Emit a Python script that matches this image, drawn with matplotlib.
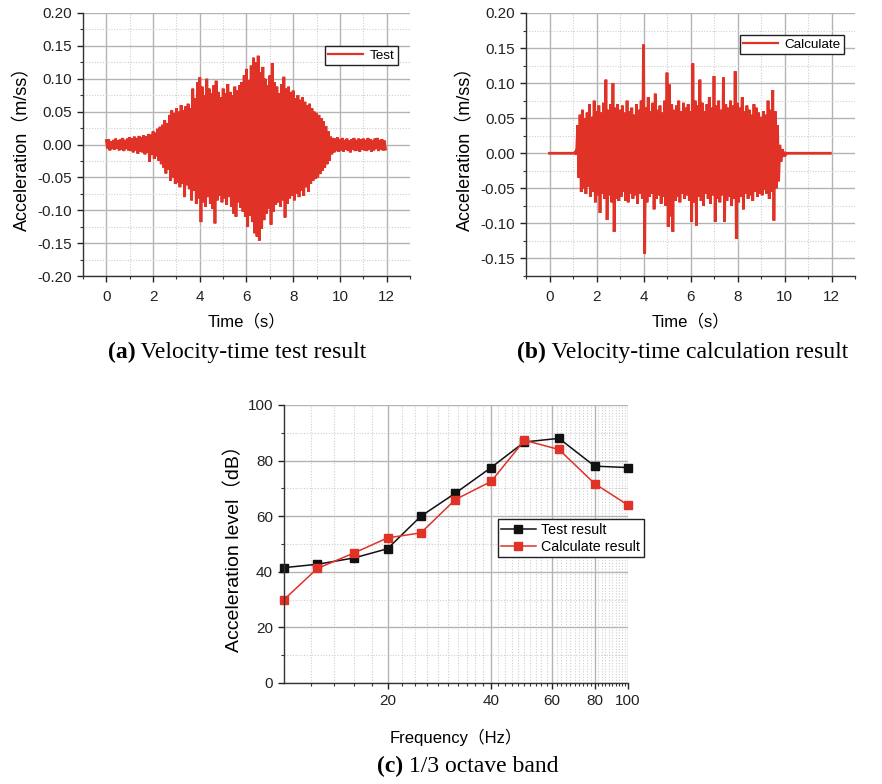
import numpy as np
import matplotlib
matplotlib.use("Agg")
import matplotlib.pyplot as plt
from matplotlib.ticker import MultipleLocator, FixedLocator, NullFormatter

# ----------------------
# Datos
# ----------------------
# picos por intervalo de 0.1 s (superior en t, inferior en t+0.05)
test_up = [0.006, 0.008, 0.005, 0.007, 0.009, 0.006, 0.008, 0.010, 0.007, 0.009,
           0.011, 0.009, 0.012, 0.010, 0.013, 0.011, 0.014, 0.012, 0.016, 0.015,
           0.020, 0.018, 0.024, 0.027, 0.030, 0.037, 0.032, 0.045, 0.052, 0.048,
           0.055, 0.050, 0.060, 0.052, 0.058, 0.062, 0.055, 0.085, 0.070, 0.095,
           0.102, 0.088, 0.075, 0.100, 0.085, 0.078, 0.090, 0.097, 0.080, 0.072,
           0.085, 0.078, 0.092, 0.080, 0.075, 0.088, 0.082, 0.090, 0.095, 0.105,
           0.115, 0.098, 0.120, 0.132, 0.125, 0.135, 0.110, 0.118, 0.100, 0.090,
           0.105, 0.124, 0.095, 0.088, 0.078, 0.092, 0.103, 0.085, 0.088, 0.080,
           0.082, 0.070, 0.075, 0.068, 0.072, 0.065, 0.060, 0.062, 0.055, 0.050,
           0.048, 0.045, 0.040, 0.035, 0.028, 0.020, 0.012, 0.010, 0.009, 0.011,
           0.008, 0.010, 0.007, 0.009, 0.006, 0.008, 0.010, 0.007, 0.009, 0.008,
           0.009, 0.007, 0.010, 0.008, 0.006, 0.009, 0.010, 0.007, 0.008, 0.006]
test_lo = [-0.006, -0.009, -0.007, -0.008, -0.006, -0.009, -0.008, -0.010, -0.007, -0.009,
           -0.010, -0.012, -0.009, -0.014, -0.011, -0.012, -0.015, -0.013, -0.026, -0.016,
           -0.022, -0.018, -0.025, -0.030, -0.035, -0.044, -0.038, -0.055, -0.050, -0.060,
           -0.058, -0.065, -0.060, -0.080, -0.062, -0.068, -0.085, -0.070, -0.090, -0.082,
           -0.118, -0.088, -0.095, -0.080, -0.090, -0.098, -0.120, -0.085, -0.078, -0.088,
           -0.082, -0.092, -0.080, -0.095, -0.105, -0.110, -0.088, -0.096, -0.102, -0.110,
           -0.125, -0.108, -0.118, -0.135, -0.140, -0.146, -0.128, -0.115, -0.105, -0.098,
           -0.122, -0.102, -0.092, -0.088, -0.095, -0.085, -0.111, -0.090, -0.082, -0.078,
           -0.085, -0.075, -0.080, -0.070, -0.078, -0.065, -0.072, -0.060, -0.055, -0.052,
           -0.050, -0.045, -0.040, -0.035, -0.030, -0.025, -0.015, -0.012, -0.010, -0.011,
           -0.009, -0.011, -0.008, -0.010, -0.012, -0.008, -0.010, -0.009, -0.011, -0.008,
           -0.009, -0.010, -0.008, -0.011, -0.009, -0.007, -0.010, -0.008, -0.009, -0.007]

calc_up = [0.0, 0.0, 0.0, 0.0, 0.0, 0.0, 0.0, 0.0, 0.0, 0.0,
           0.0, 0.002, 0.040, 0.055, 0.062, 0.050, 0.058, 0.070, 0.052, 0.075,
           0.060, 0.068, 0.058, 0.072, 0.105, 0.062, 0.070, 0.100, 0.065, 0.070,
           0.062, 0.068, 0.058, 0.075, 0.060, 0.065, 0.055, 0.070, 0.062, 0.075,
           0.155, 0.065, 0.080, 0.060, 0.072, 0.085, 0.062, 0.068, 0.058, 0.075,
           0.115, 0.098, 0.070, 0.062, 0.068, 0.075, 0.060, 0.072, 0.065, 0.070,
           0.060, 0.128, 0.075, 0.068, 0.105, 0.072, 0.060, 0.070, 0.080, 0.065,
           0.110, 0.068, 0.075, 0.062, 0.108, 0.070, 0.065, 0.075, 0.068, 0.117,
           0.072, 0.065, 0.080, 0.060, 0.068, 0.062, 0.055, 0.070, 0.065, 0.058,
           0.052, 0.060, 0.055, 0.075, 0.062, 0.090, 0.060, 0.040, 0.012, 0.006,
           0.002, 0.0, 0.0, 0.0, 0.0, 0.0, 0.0, 0.0, 0.0, 0.0,
           0.0, 0.0, 0.0, 0.0, 0.0, 0.0, 0.0, 0.0, 0.0, 0.0]
calc_lo = [0.0, 0.0, 0.0, 0.0, 0.0, 0.0, 0.0, 0.0, 0.0, 0.0,
           0.0, -0.002, -0.035, -0.055, -0.050, -0.058, -0.048, -0.062, -0.055, -0.070,
           -0.060, -0.085, -0.058, -0.065, -0.095, -0.060, -0.070, -0.112, -0.065, -0.068,
           -0.062, -0.055, -0.068, -0.070, -0.058, -0.065, -0.060, -0.072, -0.058, -0.065,
           -0.143, -0.070, -0.062, -0.058, -0.080, -0.065, -0.060, -0.072, -0.062, -0.075,
           -0.105, -0.090, -0.112, -0.068, -0.062, -0.070, -0.058, -0.065, -0.060, -0.068,
           -0.098, -0.070, -0.103, -0.062, -0.068, -0.075, -0.058, -0.065, -0.072, -0.060,
           -0.098, -0.065, -0.070, -0.060, -0.098, -0.068, -0.062, -0.075, -0.065, -0.122,
           -0.070, -0.062, -0.080, -0.058, -0.065, -0.060, -0.068, -0.055, -0.062, -0.058,
           -0.060, -0.052, -0.058, -0.065, -0.055, -0.096, -0.050, -0.040, -0.012, -0.005,
           -0.002, 0.0, 0.0, 0.0, 0.0, 0.0, 0.0, 0.0, 0.0, 0.0,
           0.0, 0.0, 0.0, 0.0, 0.0, 0.0, 0.0, 0.0, 0.0, 0.0]

# bandas de 1/3 de octava
freqs = [10, 12.5, 16, 20, 25, 31.5, 40, 50, 63, 80, 100]
level_test = [41.5, 42.7, 45.0, 48.3, 60.0, 68.3, 77.5, 86.7, 88.0, 78.0, 77.5]
level_calc = [30.0, 41.2, 46.8, 52.2, 54.0, 66.0, 72.5, 87.3, 84.0, 71.7, 64.0]

# ----------------------
# Estilo
# ----------------------
SANS = ["Liberation Sans", "Noto Sans CJK SC"]
SERIF = ["Liberation Serif", "DejaVu Serif"]
RED = "#e03226"
plt.rcParams["font.family"] = SANS
plt.rcParams["axes.unicode_minus"] = False

W, H = 882, 784
fig = plt.figure(figsize=(W / 100, H / 100), dpi=100)


def px_axes(left, top, right, bottom):
    return fig.add_axes([left / W, 1 - bottom / H, (right - left) / W, (bottom - top) / H])


def style_axes(ax):
    for s in ["top", "right"]:
        ax.spines[s].set_visible(False)
    for s in ["left", "bottom"]:
        ax.spines[s].set_color("#333333")
        ax.spines[s].set_linewidth(1.0)
    ax.grid(True, which="major", color="#b4b4b4", lw=1.0, ls="-")
    ax.grid(True, which="minor", color="#cfcfcf", lw=0.8, ls=(0, (1, 1.5)))
    ax.set_axisbelow(True)
    ax.tick_params(which="major", direction="out", length=4, width=1, labelsize=11,
                   colors="#222222", pad=4)
    ax.tick_params(which="minor", direction="out", length=2.5, width=0.8, colors="#333333")


def zigzag(up, lo):
    t_up = np.arange(len(up)) * 0.1
    t = np.empty(2 * len(up))
    y = np.empty(2 * len(up))
    t[0::2], t[1::2] = t_up, t_up + 0.05
    y[0::2], y[1::2] = up, lo
    return t, y


def time_panel(ax, up, lo, label, ylo, legend_anchor):
    t, y = zigzag(up, lo)
    ax.plot(t, y, color=RED, lw=2.0, solid_joinstyle="miter", label=label)
    ax.set_xlim(-1, 13)
    ax.set_ylim(ylo, 0.20)
    ax.xaxis.set_major_locator(MultipleLocator(2))
    ax.xaxis.set_minor_locator(MultipleLocator(1))
    ax.yaxis.set_major_locator(MultipleLocator(0.05))
    ax.yaxis.set_minor_locator(MultipleLocator(0.025))
    ax.yaxis.set_major_formatter(lambda v, p: f"{v:.2f}")
    style_axes(ax)
    ax.tick_params(axis="x", which="major", pad=6)
    ax.set_xlabel("Time（s）", fontsize=12, labelpad=7)
    ax.set_ylabel("Acceleration（m/ss）", fontsize=13, labelpad=4)
    leg = ax.legend(loc="upper right", bbox_to_anchor=legend_anchor, borderaxespad=0,
                    fancybox=False, edgecolor="#222222", fontsize=9.7, handlelength=2.6,
                    borderpad=0.25, handletextpad=0.5, framealpha=1)
    leg.get_frame().set_linewidth(1.0)
    leg.get_lines()[0].set_linewidth(1.6)


ax_a = px_axes(83, 13, 410, 276)
time_panel(ax_a, test_up, test_lo, "Test", -0.20, (0.964, 0.874))

ax_b = px_axes(526, 13, 855, 276)
time_panel(ax_b, calc_up, calc_lo, "Calculate", -0.175, (0.967, 0.917))

# ----------------------
# Espectro 1/3 octava
# ----------------------
ax_c = px_axes(284, 405, 628, 683)
ax_c.plot(freqs, level_test, color="#111111", lw=1.1, marker="s", ms=6,
          label="Test result")
ax_c.plot(freqs, level_calc, color=RED, lw=1.1, marker="s", ms=6,
          label="Calculate result")
ax_c.set_xscale("log")
ax_c.set_xlim(10, 100)
ax_c.set_ylim(0, 100)
ax_c.xaxis.set_major_locator(FixedLocator([20, 40, 60, 80, 100]))
ax_c.xaxis.set_major_formatter(lambda v, p: f"{v:g}")
ax_c.xaxis.set_minor_locator(FixedLocator([v for v in range(12, 100, 2) if v % 20 != 0]))
ax_c.xaxis.set_minor_formatter(NullFormatter())
ax_c.yaxis.set_major_locator(MultipleLocator(20))
ax_c.yaxis.set_minor_locator(MultipleLocator(10))
style_axes(ax_c)
for line in ax_c.lines:
    line.set_clip_on(False)
ax_c.set_xlabel("Frequency（Hz）", fontsize=12, labelpad=15)
ax_c.set_ylabel("Acceleration level（dB）", fontsize=14, labelpad=3)
leg = ax_c.legend(loc="upper right", bbox_to_anchor=(1.046, 0.589), borderaxespad=0,
                  fancybox=False, edgecolor="#222222", fontsize=10.3, handlelength=2.4,
                  borderpad=0.25, handletextpad=0.4, labelspacing=0.2, framealpha=1)
leg.get_frame().set_linewidth(1.0)

# ----------------------
# Pies de figura
# ----------------------
renderer = fig.canvas.get_renderer()


def caption(cx, cy, tag, rest):
    bold = fig.text(0, 0, tag, fontsize=17, fontweight="bold", family=SERIF)
    norm = fig.text(0, 0, " " + rest, fontsize=17, family=SERIF)
    wb = bold.get_window_extent(renderer).width
    wn = norm.get_window_extent(renderer).width
    x0 = cx - (wb + wn) / 2
    bold.set_position((x0 / W, 1 - cy / H))
    norm.set_position(((x0 + wb) / W, 1 - cy / H))
    bold.set_va("center")
    norm.set_va("center")


caption(237, 352, "(a)", "Velocity-time test result")
caption(683, 352, "(b)", "Velocity-time calculation result")
caption(468, 766, "(c)", "1/3 octave band")

fig.savefig("out.png", dpi=100)
